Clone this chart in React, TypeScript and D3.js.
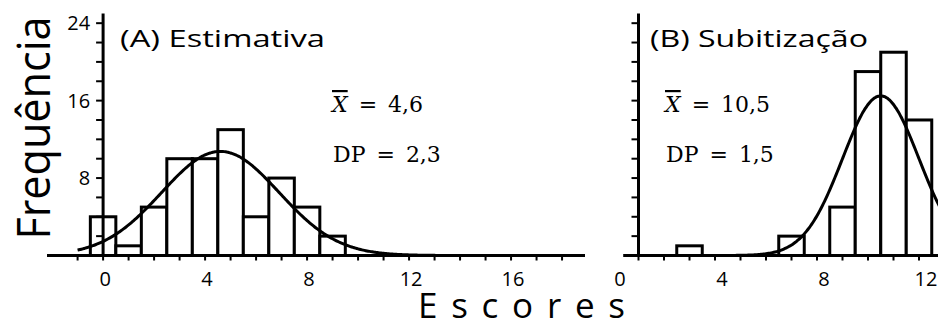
import React from "react";
import * as d3 from "d3";

// ---------- data ----------
const binsA = [0, 1, 2, 3, 4, 5, 6, 7, 8, 9];
const countsA = [4, 1, 5, 10, 10, 13, 4, 8, 5, 2];
const meanA = 4.6;
const sdA = 2.3;

const binsB = [3, 7, 9, 10, 11, 12];
const countsB = [1, 2, 5, 19, 21, 14];
const meanB = 10.5;
const sdB = 1.5;

const yTickValues = [0, 2, 4, 6, 8, 10, 12, 14, 16, 18, 20, 22, 24];
const yTickLabels = [8, 16, 24];
const xTicksA = [-1, 0, 1, 2, 3, 4, 5, 6, 7, 8, 9, 10, 11, 12, 13, 14, 15, 16, 17, 18];
const xLabelsA = [0, 4, 8, 12, 16];
const xTicksB = [1, 2, 3, 4, 5, 6, 7, 8, 9, 10, 11, 12];
const xLabelsB = [0, 4, 8, 12];

const titleA = "(A) Estimativa";
const titleB = "(B) Subitização";
const statA = ["4,6", "2,3"];
const statB = ["10,5", "1,5"];

// ---------- layout ----------
const W = 938;
const H = 323;
const y = d3.scaleLinear().domain([0, 25]).range([255.5, 13.5]);
const xA = d3.scaleLinear().domain([-2.2, 18.9]).range([47, 585]);
const xB = d3.scaleLinear().domain([0.4, 13]).range([623.2, 944.5]);

const SANS = "'Open Sans', 'Noto Sans', sans-serif";
const SERIF = "'DejaVu Serif', serif";

function normalCurve(n: number, mean: number, sd: number, from: number, to: number) {
  const pts: [number, number][] = [];
  const step = 0.05;
  for (let v = from; v <= to + 1e-9; v += step) {
    const d = (n / (sd * Math.sqrt(2 * Math.PI))) * Math.exp(-((v - mean) ** 2) / (2 * sd * sd));
    pts.push([v, d]);
  }
  return pts;
}

function Panel({
  x,
  bins,
  counts,
  mean,
  sd,
  curveFrom,
  curveTo,
  yAxisAt,
  xTicks,
  xLabels,
  labelDx,
  showYLabels,
  title,
  titleX,
  titleLen,
  stats,
  statX,
}: any) {
  const n = d3.sum(counts as number[]);
  const line = d3
    .line<[number, number]>()
    .x((d) => x(d[0]))
    .y((d) => y(d[1]))
    .curve(d3.curveBasis);
  const curve = normalCurve(n, mean, sd, curveFrom, curveTo);
  const [d0, d1] = x.domain();
  const ax = x(yAxisAt);
  return (
    <g>
      {/* bars */}
      {bins.map((b: number, i: number) => (
        <rect
          key={i}
          x={x(b - 0.5)}
          y={y(counts[i])}
          width={x(b + 0.5) - x(b - 0.5)}
          height={y(0) - y(counts[i])}
          fill="#fff"
          stroke="#000"
          strokeWidth={3}
        />
      ))}
      {/* curve */}
      <path d={line(curve) || ""} fill="none" stroke="#000" strokeWidth={3} />
      {/* x axis */}
      <line x1={x(d0)} x2={x(d1)} y1={y(0)} y2={y(0)} stroke="#000" strokeWidth={3} />
      {xTicks.map((t: number) => (
        <line key={t} x1={x(t)} x2={x(t)} y1={y(0)} y2={y(0) + 5} stroke="#000" strokeWidth={2} />
      ))}
      {xLabels.map((t: number) => (
        <text
          key={t}
          x={x(t) + labelDx}
          y={286}
          textAnchor="middle"
          fontFamily={SANS}
          fontSize={20}
          fill="#000"
        >
          {t}
        </text>
      ))}
      {/* y axis */}
      <line x1={ax} x2={ax} y1={y(0) + 1.5} y2={y(25)} stroke="#000" strokeWidth={3} />
      {yTickValues.map((t) => (
        <line key={t} x1={ax - 7} x2={ax} y1={y(t)} y2={y(t)} stroke="#000" strokeWidth={2} />
      ))}
      {showYLabels &&
        yTickLabels.map((t) => (
          <text
            key={t}
            x={ax - 13}
            y={y(t) + 7}
            textAnchor="end"
            fontFamily={SANS}
            fontSize={20}
            fill="#000"
          >
            {t}
          </text>
        ))}
      {/* title */}
      <text
        x={titleX}
        y={47}
        fontFamily={SANS}
        fontSize={24}
        fill="#000"
        textLength={titleLen}
        lengthAdjust="spacingAndGlyphs"
      >
        {title}
      </text>
      {/* stats */}
      <text x={statX} y={112} fontFamily={SERIF} fontSize={22} fill="#000">
        <tspan fontStyle="italic" style={{ textDecoration: "overline" }}>X</tspan>
        <tspan>{"\u2002=\u2002" + stats[0]}</tspan>
      </text>
      <text x={statX + 1} y={162} fontFamily={SERIF} fontSize={22} fill="#000">
        {"DP\u2002=\u2002" + stats[1]}
      </text>
    </g>
  );
}

export default function App() {
  return (
    <svg
      width={W}
      height={H}
      viewBox={`0 0 ${W} ${H}`}
      style={{ position: "absolute", left: 0, top: 0, background: "#fff" }}
    >
      <rect x={0} y={0} width={W} height={H} fill="#fff" />
      <Panel
        x={xA}
        bins={binsA}
        counts={countsA}
        mean={meanA}
        sd={sdA}
        curveFrom={-1}
        curveTo={14}
        yAxisAt={0}
        xTicks={xTicksA}
        xLabels={xLabelsA}
        labelDx={2}
        showYLabels={true}
        title={titleA}
        titleX={120}
        titleLen={205}
        stats={statA}
        statX={332}
      />
      <Panel
        x={xB}
        bins={binsB}
        counts={countsB}
        mean={meanB}
        sd={sdB}
        curveFrom={4.3}
        curveTo={13}
        yAxisAt={1}
        xTicks={xTicksB}
        xLabels={xLabelsB}
        labelDx={7}
        showYLabels={false}
        title={titleB}
        titleX={650}
        titleLen={218}
        stats={statB}
        statX={665}
      />
      {/* axis titles */}
      <text
        transform="translate(50,128) rotate(-90)"
        textAnchor="middle"
        fontFamily={SANS}
        fontSize={46}
        fill="#000"
        textLength={223}
        lengthAdjust="spacingAndGlyphs"
      >
        Frequência
      </text>
      <text
        x={418}
        y={318}
        fontFamily={SANS}
        fontSize={35}
        fill="#000"
        textLength={207}
        lengthAdjust="spacing"
      >
        Escores
      </text>
    </svg>
  );
}
